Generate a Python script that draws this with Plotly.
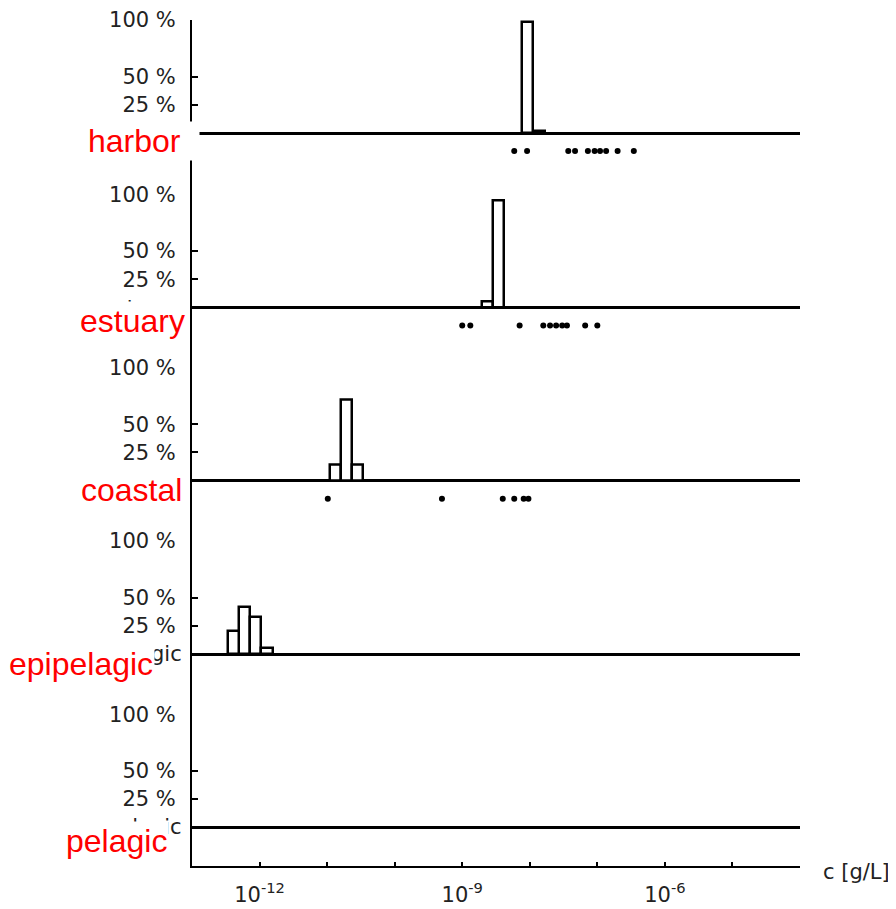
import numpy as np
import plotly.graph_objects as go
from plotly.subplots import make_subplots

# ---------------- data ----------------
regions = ["harbor", "estuary", "coastal", "epipelagic", "pelagic"]

# histogram bins: log10(c [g/L]) bin centres and share of samples (%)
harbor_bins = [-8.03, -7.86]
harbor_pct = [98, 2]
estuary_bins = [-8.63, -8.46]
estuary_pct = [5, 95]
coastal_bins = [-10.88, -10.715, -10.55]
coastal_pct = [14, 72, 14]
epipelagic_bins = [-12.38, -12.22, -12.055, -11.89]
epipelagic_pct = [20, 42, 33, 5]
pelagic_bins = []
pelagic_pct = []

# measured concentrations, log10(c [g/L])
harbor_obs = [-8.23, -8.04, -7.43, -7.33, -7.14, -7.04, -6.96, -6.87, -6.70, -6.46]
estuary_obs = [-9.00, -8.88, -8.15, -7.80, -7.70, -7.61, -7.52, -7.45, -7.18, -7.00]
coastal_obs = [-10.99, -9.30, -8.40, -8.23, -8.09, -8.02]
epipelagic_obs = []
pelagic_obs = []

bin_width = 1 / 6
y_tick_vals = [0, 25, 50, 100]
y_tick_text = ["", "25 %", "50 %", "100 %"]
x_decades = list(range(-13, -3))
x_labelled = [-12, -9, -6]
x_unit = "c [g/L]"

bins = [harbor_bins, estuary_bins, coastal_bins, epipelagic_bins, pelagic_bins]
pcts = [harbor_pct, estuary_pct, coastal_pct, epipelagic_pct, pelagic_pct]
obs = [harbor_obs, estuary_obs, coastal_obs, epipelagic_obs, pelagic_obs]

# ---------------- layout geometry ----------------
OFF = 8                      # page body margin of the browser
W, H = 896 - OFF, 909 - OFF
ML, MT = 192 - OFF, 20 - OFF
PW, PH = 608, 846
MR, MB = W - ML - PW, H - MT - PH
PX_PER_PCT = 1.13
row_px = [174.5, 173.2, 173.3, 173.3, 151.7]
obs_y = -16

TICK_FONT = dict(family="DejaVu Sans", size=21, color="#222222")
LABEL_FONT = dict(family="Liberation Sans, Arial", size=32, color="#ff0000")

fig = make_subplots(rows=5, cols=1, shared_xaxes=True, vertical_spacing=0,
                    row_heights=row_px)

for i in range(5):
    r = i + 1
    if bins[i]:
        fig.add_trace(go.Bar(
            x=bins[i], y=pcts[i], width=bin_width,
            marker=dict(color="white", line=dict(color="black", width=2.5)),
            showlegend=False, hoverinfo="skip"), row=r, col=1)
    if obs[i]:
        fig.add_trace(go.Scatter(
            x=obs[i], y=[obs_y] * len(obs[i]), mode="markers",
            marker=dict(color="black", size=6),
            showlegend=False, hoverinfo="skip"), row=r, col=1)
    ymin = 100 - row_px[i] / PX_PER_PCT
    fig.update_yaxes(
        range=[ymin, 100], tickmode="array", tickvals=y_tick_vals,
        ticktext=y_tick_text,
        showline=True, linecolor="black", linewidth=2,
        ticks="inside", ticklen=6, tickwidth=2, tickcolor="black",
        tickfont=TICK_FONT, ticklabelstandoff=10, automargin=False,
        showgrid=False, zeroline=True, zerolinecolor="black", zerolinewidth=2.5,
        fixedrange=True, row=r, col=1)
    if r < 5:
        fig.update_xaxes(showline=False, showticklabels=False, ticks="",
                         showgrid=False, zeroline=False, range=[-13, -4],
                         automargin=False, row=r, col=1)

fig.update_xaxes(
    range=[-13, -4], tickmode="array", tickvals=x_decades,
    ticktext=[("10<sup>%d</sup>" % d) if d in x_labelled else "" for d in x_decades],
    showline=True, linecolor="black", linewidth=2,
    ticks="inside", ticklen=4, tickwidth=2, tickcolor="black",
    tickfont=TICK_FONT, ticklabelstandoff=9, showgrid=False, zeroline=False,
    automargin=False, row=5, col=1)

# original grey region names at the 0 level of each panel
for i, name in enumerate(regions):
    yref = "y" if i == 0 else "y%d" % (i + 1)
    fig.add_annotation(text=name, xref="paper", yref=yref, x=(184 - 192) / PW,
                       y=0, xanchor="right", yanchor="middle", showarrow=False,
                       font=TICK_FONT)

# red region labels (with white background covering the original labels)
label_dy = [-7.1, -12.0, -8.2, -8.8, -12.1]
label_right_px = [184, 187, 184, 155, 169]
for i, name in enumerate(regions):
    yref = "y" if i == 0 else "y%d" % (i + 1)
    kw = dict(text=name, xref="paper", yref=yref, y=label_dy[i],
              showarrow=False, font=LABEL_FONT, bgcolor="white", borderpad=1,
              yanchor="middle")
    if i == 0:
        kw.update(x=(200 - 192) / PW, xanchor="right", width=110, align="left")
    else:
        kw.update(x=(label_right_px[i] - 192) / PW, xanchor="right")
    fig.add_annotation(**kw)

fig.add_annotation(text=x_unit, xref="paper", yref="paper",
                   x=(821 - 192) / PW, y=-(872 - 866) / PH,
                   xanchor="left", yanchor="middle", showarrow=False,
                   font=TICK_FONT)

fig.update_layout(
    width=W, height=H, margin=dict(l=ML, r=MR, t=MT, b=MB, autoexpand=False),
    paper_bgcolor="white", plot_bgcolor="white", bargap=0,
    showlegend=False)

fig.write_html("out.html")
